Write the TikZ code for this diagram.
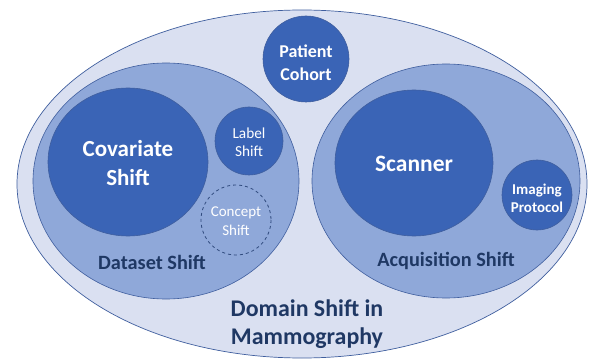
\documentclass[tikz,border=0pt]{standalone}
\usepackage{fontspec}
\setmainfont{Carlito}
\definecolor{outerfill}{HTML}{DAE0F1}
\definecolor{midfill}{HTML}{8FA8D9}
\definecolor{darkfill}{HTML}{3A64B6}
\definecolor{edge}{HTML}{3F5E9E}
\definecolor{navy}{HTML}{1F3864}
\definecolor{dashc}{HTML}{2F4A7D}
\tikzset{
  midell/.style={draw=edge,line width=0.6pt,fill=midfill},
  darkell/.style={draw=edge,line width=0.6pt,fill=darkfill},
  whitetxt/.style={text=white,align=center,font=\bfseries},
  navytxt/.style={text=navy,align=center,font=\bfseries},
}
\begin{document}
\begin{tikzpicture}[x=1pt,y=-1pt]
\useasboundingbox (0,0) rectangle (590,361);
% outer
\fill[outerfill,draw=edge,line width=0.7pt] (302,184) ellipse [x radius=285,y radius=174];
% mid ellipses
\draw[midell] (166,181) ellipse [x radius=133,y radius=118];
\draw[midell] (446,181) ellipse [x radius=134,y radius=117];
% dark shapes
\draw[darkell] (128,162) ellipse [x radius=80,y radius=74];
\draw[darkell] (249,141) circle [radius=34];
\draw[dashc,dashed,line width=0.8pt,fill=midfill] (236,220) circle [radius=35];
\draw[darkell] (306,59) circle [radius=43];
\draw[darkell] (414,163) ellipse [x radius=79,y radius=73];
\draw[darkell] (537,195) circle [radius=35];
% texts
\node[whitetxt,font=\bfseries\fontsize{23}{29}\selectfont] (cov) at (128,163) {Covariate\\Shift};
\node[text=white,align=center,font=\fontsize{15.3}{18.5}\selectfont] (lab) at (249,142) {Label\\Shift};
\node[text=white,align=center,font=\fontsize{15}{18.5}\selectfont] (con) at (236,221) {Concept\\Shift};
\node[whitetxt,font=\bfseries\fontsize{18}{23}\selectfont] (pat) at (306,63) {Patient\\Cohort};
\node[whitetxt,font=\bfseries\fontsize{23.5}{28}\selectfont] (scn) at (414,164) {Scanner};
\node[whitetxt,font=\bfseries\fontsize{15}{18}\selectfont] (img) at (537,198) {Imaging\\Protocol};
\node[navytxt,font=\bfseries\fontsize{20.3}{24}\selectfont] (ds) at (152,262) {Dataset Shift};
\node[navytxt,font=\bfseries\fontsize{23.9}{28.5}\selectfont] (dom) at (307,324) {Domain Shift in\\Mammography};
\node[navytxt,font=\bfseries\fontsize{20.3}{24}\selectfont] (as) at (446,261) {Acquisition Shift};
\end{tikzpicture}
\end{document}
